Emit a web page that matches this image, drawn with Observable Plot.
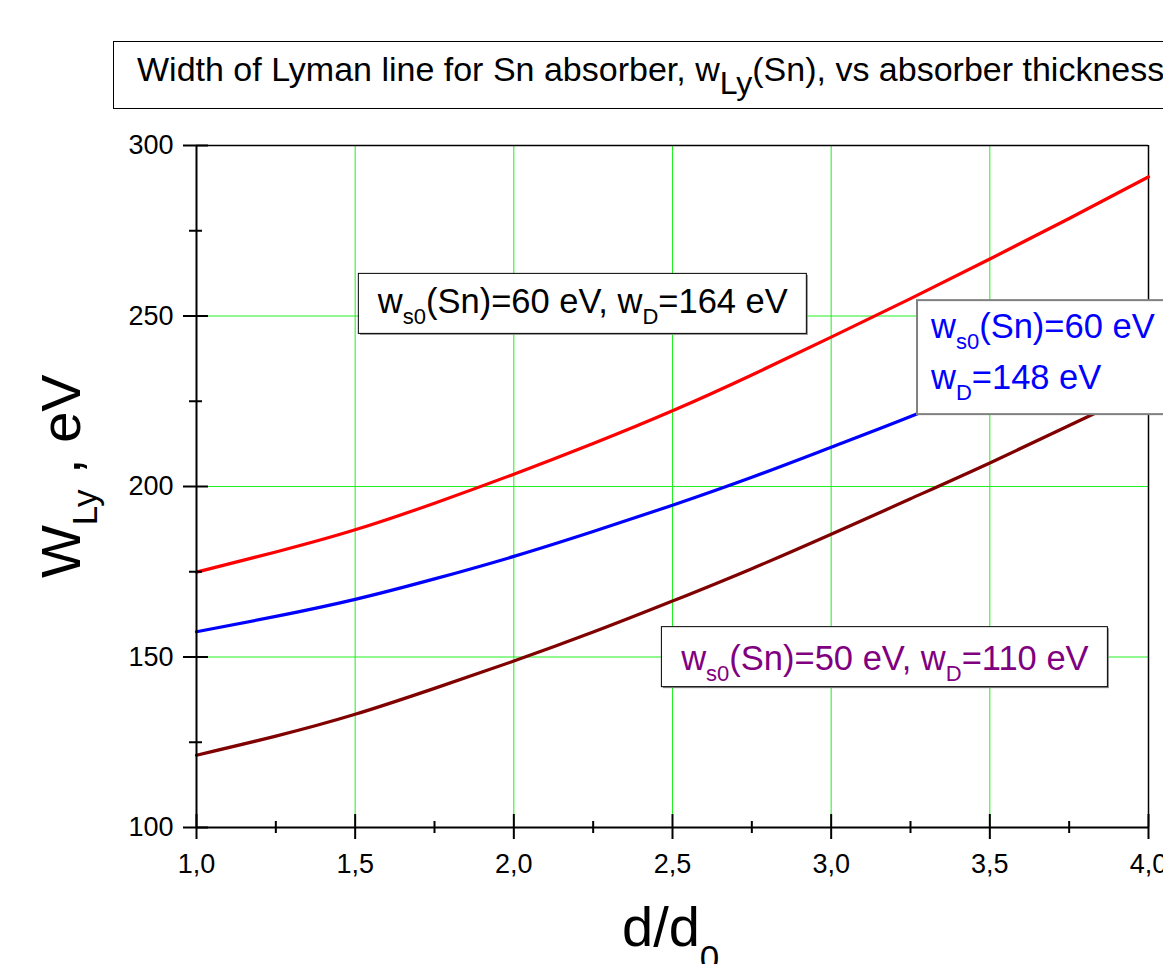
<!DOCTYPE html>
<html>
<head>
<meta charset="utf-8">
<script src="https://cdn.jsdelivr.net/npm/d3@7"></script>
<script src="https://cdn.jsdelivr.net/npm/@observablehq/plot@0.6"></script>
<style>
  html, body { margin: 0; padding: 0; background: #fff; }
  #chart svg { display: block; font-family: "Liberation Sans", Arial, sans-serif; }
</style>
</head>
<body>
<div id="chart"></div>
<script>
// ---- data ----
const thickness = [1.0, 1.25, 1.5, 1.75, 2.0, 2.25, 2.5, 2.75, 3.0, 3.25, 3.5, 3.75, 4.0];
const wS60D164 = [174.9, 180.8, 187.3, 195.1, 203.6, 212.6, 222.2, 232.7, 243.8, 255.1, 266.7, 278.6, 290.8];
const wS60D148 = [157.4, 161.9, 166.9, 172.9, 179.5, 186.8, 194.5, 202.7, 211.5, 220.5, 230.2, 240.2, 250.6];
const wS50D110 = [121.2, 126.8, 133.2, 140.8, 148.8, 157.3, 166.4, 175.9, 186.0, 196.4, 206.9, 217.9, 228.9];

const xTicks = [1.0, 1.5, 2.0, 2.5, 3.0, 3.5, 4.0];
const xTickLabels = ["1,0", "1,5", "2,0", "2,5", "3,0", "3,5", "4,0"];
const xMinor = [1.25, 1.75, 2.25, 2.75, 3.25, 3.75];
const yTicks = [100, 150, 200, 250, 300];
const yTickLabels = ["100", "150", "200", "250", "300"];
const yMinor = [125, 175, 225, 275];
const xGrid = [1.5, 2.0, 2.5, 3.0, 3.5];
const yGrid = [150, 200, 250];

const titleParts = ["Width of Lyman line for Sn absorber, w", "Ly", "(Sn), vs absorber thickness"];

const series = [
  {name: "ws0=60, wD=164", values: wS60D164, color: "#ff0000"},
  {name: "ws0=60, wD=148", values: wS60D148, color: "#0000ff"},
  {name: "ws0=50, wD=110", values: wS50D110, color: "#800000"}
];
const rows = series.flatMap(s => thickness.map((d, i) => ({d, w: s.values[i], s: s.name})));

const chart = Plot.plot({
  width: 1163,
  height: 964,
  marginLeft: 196,
  marginRight: 15,
  marginTop: 145,
  marginBottom: 137,
  style: {fontFamily: "'Liberation Sans', Arial, sans-serif", background: "white", color: "black"},
  x: {domain: [1, 4]},
  y: {domain: [100, 300]},
  color: {type: "ordinal", domain: series.map(s => s.name), range: series.map(s => s.color)},
  marks: [
    Plot.ruleX(xGrid, {stroke: "#22ee22", strokeWidth: 1}),
    Plot.ruleY(yGrid, {stroke: "#22ee22", strokeWidth: 1}),
    Plot.ruleY([300], {stroke: "black", strokeWidth: 1.5}),
    Plot.ruleX([4], {stroke: "black", strokeWidth: 1.5}),
    Plot.line(rows, {x: "d", y: "w", z: "s", stroke: "s", strokeWidth: 3.2, curve: "natural"}),
    Plot.ruleX([1], {stroke: "black", strokeWidth: 2}),
    Plot.ruleY([100], {stroke: "black", strokeWidth: 2}),
    // crossing ticks
    Plot.ruleX(xTicks, {y1: 100, y2: 100, insetTop: -13, insetBottom: -12, stroke: "black", strokeWidth: 2}),
    Plot.ruleX(xMinor, {y1: 100, y2: 100, insetTop: -6, insetBottom: -6, stroke: "black", strokeWidth: 2}),
    Plot.ruleY(yTicks, {x1: 1, x2: 1, insetLeft: -13, insetRight: -12, stroke: "black", strokeWidth: 2}),
    Plot.ruleY(yMinor, {x1: 1, x2: 1, insetLeft: -7, insetRight: -6, stroke: "black", strokeWidth: 2}),
    Plot.axisX({ticks: xTicks, tickSize: 0, tickPadding: 26, fontSize: 27, label: null,
      tickFormat: v => xTickLabels[xTicks.indexOf(v)]}),
    Plot.axisY({ticks: yTicks, tickSize: 0, tickPadding: 23, fontSize: 27, label: null,
      tickFormat: v => yTickLabels[yTicks.indexOf(v)]})
  ]
});

document.getElementById("chart").appendChild(chart);

const svg = d3.select(chart);
const sx = chart.scale("x"), sy = chart.scale("y");
const font = "'Liberation Sans', Arial, sans-serif";

// ---- title box ----
const tg = svg.append("g").attr("font-family", font).attr("text-anchor", "start");
tg.append("rect").attr("x", 113.5).attr("y", 41.5).attr("width", 1100).attr("height", 67)
  .attr("fill", "white").attr("stroke", "black").attr("stroke-width", 1);
const tt = tg.append("text").attr("x", 137).attr("y", 81).attr("font-size", 34).attr("fill", "black")
  .attr("text-anchor", "start");
tt.append("tspan").text(titleParts[0]);
tt.append("tspan").attr("dy", 13).attr("font-size", 32).text(titleParts[1]);
tt.append("tspan").attr("dy", -13).attr("font-size", 34).text(titleParts[2]);

// ---- axis titles ----
const yl = svg.append("text").attr("font-family", font).attr("fill", "black").attr("text-anchor", "start")
  .attr("transform", "translate(80,578) rotate(-90)").attr("font-size", 56);
yl.append("tspan").text("W");
yl.append("tspan").attr("dy", 17).attr("font-size", 35).text("Ly");
yl.append("tspan").attr("dy", -17).attr("font-size", 56).text(" , eV");

const xl = svg.append("text").attr("font-family", font).attr("fill", "black").attr("text-anchor", "start")
  .attr("x", 622).attr("y", 946).attr("font-size", 56);
xl.append("tspan").text("d/d");
xl.append("tspan").attr("dy", 24).attr("font-size", 35).text("0");

// ---- annotation boxes (anchored in data units: top-left corner) ----
const annotations = [
  {x: 1.51, y: 262.5, w: 448, h: 60, color: "black", border: "black", anchor: "middle",
   lines: [[["w", 0], ["s0", 1], ["(Sn)=60 eV, w", 0], ["D", 1], ["=164 eV", 0]]], baselines: [40]},
  {x: 3.269, y: 254.8, w: 300, h: 114, color: "#0000ff", border: "#808080", anchor: "start",
   lines: [[["w", 0], ["s0", 1], ["(Sn)=60 eV", 0]], [["w", 0], ["D", 1], ["=148 eV", 0]]], baselines: [39, 90]},
  {x: 2.465, y: 158.9, w: 446, h: 60, color: "#800080", border: "black", anchor: "middle",
   lines: [[["w", 0], ["s0", 1], ["(Sn)=50 eV, w", 0], ["D", 1], ["=110 eV", 0]]], baselines: [44]}
];
const ag = svg.append("g").attr("font-family", font);
for (const a of annotations) {
  const x0 = sx.apply(a.x), y0 = sy.apply(a.y);
  if (a.border === "black") {
    ag.append("rect").attr("x", x0 + 2).attr("y", y0 + 2).attr("width", a.w).attr("height", a.h).attr("fill", "#8a8a8a");
    ag.append("rect").attr("x", x0 + 0.5).attr("y", y0 + 0.5).attr("width", a.w).attr("height", a.h)
      .attr("fill", "white").attr("stroke", "black").attr("stroke-width", 1);
  } else {
    ag.append("rect").attr("x", x0 + 1).attr("y", y0 + 1).attr("width", a.w).attr("height", a.h)
      .attr("fill", "white").attr("stroke", a.border).attr("stroke-width", 2);
  }
  a.lines.forEach((parts, li) => {
    const t = ag.append("text").attr("fill", a.color).attr("font-size", 34.5)
      .attr("text-anchor", a.anchor)
      .attr("x", a.anchor === "middle" ? x0 + a.w / 2 + 1 : x0 + 15)
      .attr("y", y0 + a.baselines[li]);
    let shifted = 0;
    for (const [str, sub] of parts) {
      const sp = t.append("tspan").text(str).attr("font-size", sub ? 22 : 34.5);
      const target = sub ? 11 : 0;
      if (target !== shifted) { sp.attr("dy", target - shifted); shifted = target; }
    }
  });
}
</script>
</body>
</html>
